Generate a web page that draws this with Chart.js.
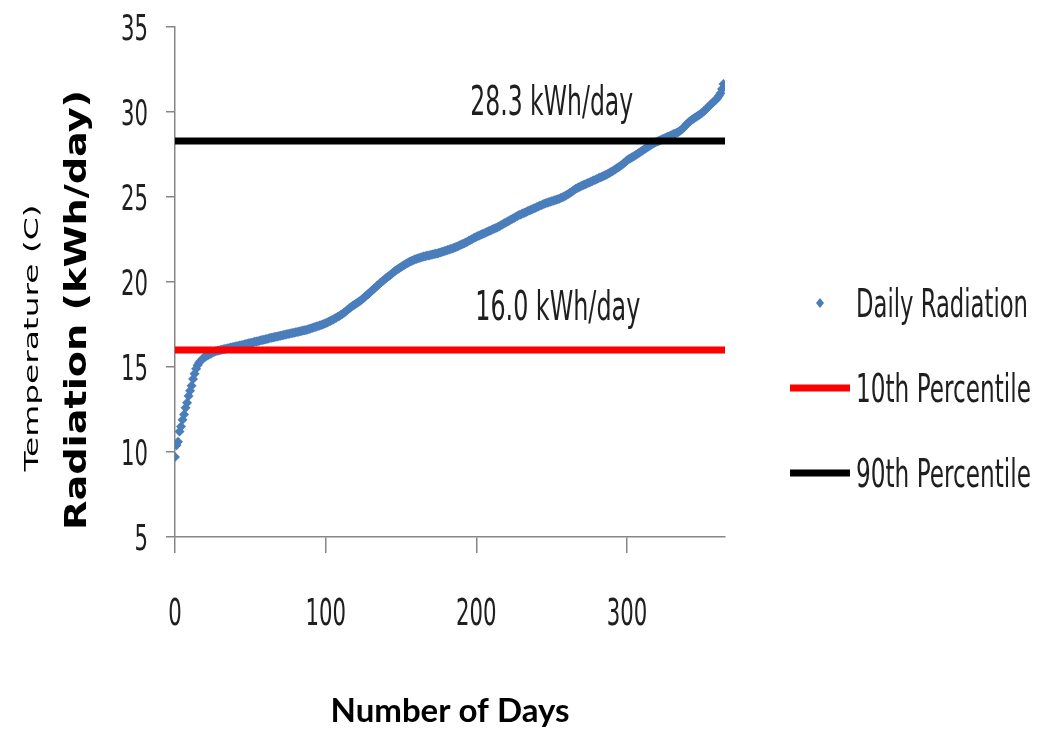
<!DOCTYPE html>
<html>
<head>
<meta charset="utf-8">
<script src="https://cdn.jsdelivr.net/npm/chart.js@4.4.0/dist/chart.umd.min.js"></script>
<style>
  html, body { margin: 0; padding: 0; background: #fff; }
  canvas { display: block; }
</style>
</head>
<body>
<canvas id="myChart" width="1054" height="737"></canvas>
<script>
// daily radiation sorted ascending (kWh/day), one value per day
const radiation = [
  9.7, 10.4, 10.6, 11.2, 11.5, 11.9, 12.2, 12.6, 12.9, 13.3,
  13.6, 13.9, 14.3, 14.6, 14.9, 15.1, 15.25, 15.35, 15.45, 15.55,
  15.6, 15.65, 15.7, 15.75, 15.8, 15.85, 15.9, 15.92, 15.95, 15.97,
  16.0, 16.02, 16.04, 16.06, 16.08, 16.1, 16.12, 16.14, 16.16, 16.18,
  16.2, 16.22, 16.24, 16.26, 16.28, 16.3, 16.33, 16.35, 16.37, 16.39,
  16.41, 16.43, 16.46, 16.48, 16.5, 16.52, 16.55, 16.57, 16.59, 16.61,
  16.63, 16.65, 16.67, 16.7, 16.72, 16.74, 16.76, 16.78, 16.8, 16.82,
  16.84, 16.86, 16.88, 16.9, 16.92, 16.94, 16.96, 16.98, 17.0, 17.02,
  17.04, 17.06, 17.08, 17.1, 17.12, 17.14, 17.16, 17.18, 17.2, 17.23,
  17.26, 17.29, 17.32, 17.35, 17.38, 17.41, 17.44, 17.47, 17.5, 17.54,
  17.58, 17.62, 17.66, 17.7, 17.75, 17.8, 17.85, 17.9, 17.95, 18.0,
  18.06, 18.12, 18.18, 18.25, 18.32, 18.4, 18.47, 18.54, 18.6, 18.66,
  18.72, 18.78, 18.84, 18.9, 18.97, 19.05, 19.13, 19.2, 19.28, 19.36,
  19.44, 19.52, 19.6, 19.68, 19.76, 19.84, 19.92, 20.0, 20.08, 20.15,
  20.22, 20.29, 20.36, 20.43, 20.5, 20.57, 20.64, 20.7, 20.76, 20.82,
  20.88, 20.94, 21.0, 21.05, 21.1, 21.15, 21.2, 21.24, 21.28, 21.32,
  21.35, 21.38, 21.41, 21.44, 21.47, 21.5, 21.52, 21.54, 21.56, 21.58,
  21.6, 21.62, 21.64, 21.66, 21.68, 21.7, 21.73, 21.76, 21.79, 21.82,
  21.85, 21.88, 21.91, 21.94, 21.97, 22.0, 22.04, 22.08, 22.12, 22.16,
  22.2, 22.24, 22.28, 22.32, 22.37, 22.42, 22.47, 22.52, 22.57, 22.62,
  22.66, 22.7, 22.74, 22.78, 22.82, 22.86, 22.9, 22.94, 22.98, 23.02,
  23.06, 23.1, 23.14, 23.18, 23.22, 23.27, 23.32, 23.37, 23.42, 23.47,
  23.52, 23.57, 23.62, 23.67, 23.72, 23.77, 23.82, 23.87, 23.92, 23.96,
  24.0, 24.04, 24.08, 24.12, 24.16, 24.2, 24.24, 24.28, 24.32, 24.36,
  24.4, 24.44, 24.48, 24.52, 24.56, 24.6, 24.63, 24.66, 24.69, 24.72,
  24.75, 24.78, 24.81, 24.84, 24.87, 24.9, 24.94, 24.98, 25.02, 25.07,
  25.12, 25.18, 25.24, 25.3, 25.36, 25.42, 25.48, 25.53, 25.58, 25.62,
  25.66, 25.7, 25.74, 25.78, 25.82, 25.86, 25.9, 25.94, 25.98, 26.02,
  26.06, 26.1, 26.14, 26.18, 26.22, 26.26, 26.3, 26.35, 26.4, 26.45,
  26.5, 26.56, 26.62, 26.68, 26.74, 26.8, 26.86, 26.93, 27.0, 27.08,
  27.16, 27.22, 27.27, 27.32, 27.37, 27.42, 27.48, 27.54, 27.6, 27.66,
  27.72, 27.78, 27.84, 27.9, 27.96, 28.02, 28.08, 28.13, 28.18, 28.22,
  28.26, 28.3, 28.34, 28.38, 28.42, 28.46, 28.5, 28.54, 28.58, 28.62,
  28.66, 28.7, 28.74, 28.78, 28.82, 28.88, 28.95, 29.03, 29.12, 29.22,
  29.32, 29.4, 29.47, 29.54, 29.6, 29.66, 29.72, 29.78, 29.84, 29.9,
  29.97, 30.05, 30.13, 30.22, 30.31, 30.4, 30.48, 30.56, 30.64, 30.72,
  30.82, 30.95, 31.1, 31.35, 31.65
];
const p10 = 16.0;
const p90 = 28.3;
const xRange = [0, 365];
const xTicks = [0, 100, 200, 300];
const yTicks = [5, 10, 15, 20, 25, 30, 35];
const seriesNames = ["Daily Radiation", "10th Percentile", "90th Percentile"];
const p10Label = "16.0 kWh/day";
const p90Label = "28.3 kWh/day";

const blue = "#4A7EBB";
const condensed = "'DejaVu Sans Condensed', 'Liberation Sans', sans-serif";
const axisGray = "#868686";
const textColor = "#1f1f1f";

const points = radiation.map((v, i) => ({ x: i, y: v }));
const hLine = (v) => xRange.map((x) => ({ x: x, y: v }));

// draws text squeezed/stretched to a given width and cap height (the source picture is stretched)
function fitText(ctx, text, x, y, size, capH, width, align) {
  ctx.save();
  ctx.font = size + "px " + condensed;
  ctx.fillStyle = textColor;
  ctx.textAlign = align || "left";
  ctx.textBaseline = "alphabetic";
  const w = ctx.measureText(text).width;
  ctx.translate(x, y);
  ctx.scale(width / w, capH / (0.729 * size));
  ctx.fillText(text, 0, 0);
  ctx.restore();
}

function rotatedText(ctx, text, x, y, font, length) {
  ctx.save();
  ctx.font = font;
  ctx.fillStyle = "#000";
  const w = ctx.measureText(text).width;
  ctx.translate(x, y);
  ctx.rotate(-Math.PI / 2);
  ctx.scale(length / w, 1);
  ctx.textAlign = "center";
  ctx.textBaseline = "alphabetic";
  ctx.fillText(text, 0, 0);
  ctx.restore();
}

// tick labels, axis titles, line labels and the legend
const extras = {
  id: "extras",
  afterDraw(chart) {
    const ctx = chart.ctx;
    const xs = chart.scales.x;
    const ys = chart.scales.y;

    yTicks.forEach((v) => {
      const s = String(v);
      fitText(ctx, s, 148, ys.getPixelForValue(v) + 13, 24, 26, 13.5 * s.length, "right");
    });
    xTicks.forEach((v) => {
      const s = String(v);
      fitText(ctx, s, xs.getPixelForValue(v), 625, 24, 27, 13.5 * s.length, "center");
    });

    rotatedText(ctx, "Temperature (C)", 38, 338, "19px 'DejaVu Sans'", 267);
    rotatedText(ctx, "Radiation (kWh/day)", 86, 310, "bold 31px 'DejaVu Sans'", 440);

    fitText(ctx, p90Label, xs.getPixelForValue(250), ys.getPixelForValue(p90) - 26, 28, 30, 163, "center");
    fitText(ctx, p10Label, xs.getPixelForValue(254), ys.getPixelForValue(p10) - 30, 28, 30, 165, "center");

    // legend
    const lx = 790, tx = 856;
    const rows = [303, 388, 473];
    ctx.save();
    ctx.fillStyle = blue;
    ctx.beginPath();
    ctx.moveTo(820, rows[0] - 5);
    ctx.lineTo(824, rows[0]);
    ctx.lineTo(820, rows[0] + 5);
    ctx.lineTo(816, rows[0]);
    ctx.closePath();
    ctx.fill();
    ctx.lineWidth = 7;
    ctx.strokeStyle = "#FF0000";
    ctx.beginPath();
    ctx.moveTo(lx, rows[1]);
    ctx.lineTo(lx + 60, rows[1]);
    ctx.stroke();
    ctx.strokeStyle = "#000000";
    ctx.beginPath();
    ctx.moveTo(lx, rows[2]);
    ctx.lineTo(lx + 60, rows[2]);
    ctx.stroke();
    ctx.restore();
    const widths = [172, 175, 175];
    seriesNames.forEach((name, i) => {
      fitText(ctx, name, tx, rows[i] + 14, 28, 28, widths[i], "left");
    });
  }
};

const ctx = document.getElementById("myChart").getContext("2d");
const myChart = new Chart(ctx, {
  type: "scatter",
  data: {
    datasets: [
      {
        label: seriesNames[0],
        data: points,
        backgroundColor: blue,
        borderColor: blue,
        borderWidth: 0,
        pointStyle: "rectRot",
        pointRadius: 5,
        order: 3,
      },
      {
        label: seriesNames[1],
        data: hLine(p10),
        showLine: true,
        borderColor: "#FF0000",
        borderWidth: 7,
        pointRadius: 0,
        order: 2,
      },
      {
        label: seriesNames[2],
        data: hLine(p90),
        showLine: true,
        borderColor: "#000000",
        borderWidth: 7,
        pointRadius: 0,
        order: 1,
      },
    ],
  },
  options: {
    responsive: false,
    animation: false,
    layout: { padding: { top: 27, right: 329, left: 0, bottom: 0 } },
    plugins: {
      legend: { display: false },
      tooltip: { enabled: false },
    },
    scales: {
      x: {
        type: "linear",
        min: xRange[0],
        max: xRange[1],
        afterBuildTicks: (s) => { s.ticks = xTicks.map((v) => ({ value: v })); },
        afterFit: (s) => { s.height = 200; },
        border: { color: axisGray, width: 1.5 },
        grid: { drawOnChartArea: false, drawTicks: true, tickLength: 16, color: axisGray, lineWidth: 1.5 },
        ticks: { display: false },
        title: {
          display: true,
          text: "Number of Days",
          font: { family: "Lato, 'Liberation Sans', sans-serif", size: 33, weight: "bold" },
          color: "#000",
          padding: { top: 0, bottom: 6 },
        },
      },
      y: {
        min: yTicks[0],
        max: yTicks[yTicks.length - 1],
        afterBuildTicks: (s) => { s.ticks = yTicks.map((v) => ({ value: v })); },
        afterFit: (s) => { s.width = 175; },
        border: { color: axisGray, width: 1.5 },
        grid: { drawOnChartArea: false, drawTicks: true, tickLength: 9, color: axisGray, lineWidth: 1.5 },
        ticks: { display: false },
      },
    },
  },
  plugins: [extras],
});
</script>
</body>
</html>
